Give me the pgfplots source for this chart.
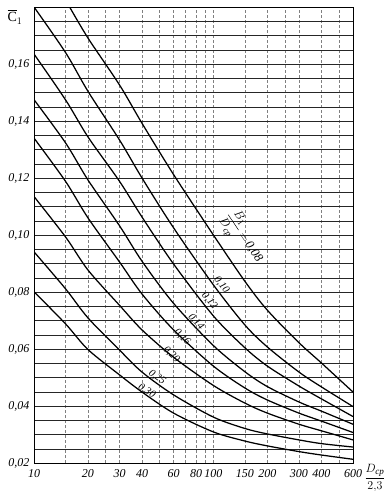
\documentclass[border=0pt]{standalone}
\usepackage{fontspec}
\setmainfont{Liberation Serif}
\usepackage{amsmath}
\usepackage{pgfplots}
\pgfplotsset{compat=1.18}
\begin{document}
\begin{tikzpicture}
\begin{axis}[
  at={(0pt,0pt)}, anchor=south west,
  scale only axis, width=319pt, height=456pt,
  xmode=log, log basis x=10,
  xmin=10, xmax=600, ymin=0.02, ymax=0.18,
  xtick={10,20,30,40,60,80,100,150,200,300,400,600},
  xticklabels={10,20,30,40,60,80,100,150,200,300,400,600},
  minor xtick={15,25,50,70,90,250,500},
  ytick={0.02,0.04,0.06,0.08,0.10,0.12,0.14,0.16},
  yticklabels={{0,02},{0,04},{0,06},{0,08},{0,10},{0,12},{0,14},{0,16}},
  minor ytick={0.025,0.03,0.035,0.045,0.05,0.055,0.065,0.07,0.075,0.085,0.09,0.095,0.105,0.11,0.115,0.125,0.13,0.135,0.145,0.15,0.155,0.165,0.17,0.175},
  grid=both,
  x grid style={densely dashed, black!50, line width=0.4pt},
  y grid style={black!85, line width=0.5pt},
  tick style={draw=none},
  axis line style={line width=0.8pt},
  tick label style={font=\itshape\fontsize{12}{12}\selectfont},
  xticklabel style={yshift=-3pt},
  yticklabel style={xshift=-1pt},
  curve/.style={black, solid, line width=1.25pt, smooth, mark=none},
]
% B1/Dcp = 0.30
\addplot[curve] coordinates {(10,0.0801) (15,0.0688) (20,0.0598) (30,0.0509) (40,0.0449) (60,0.0375) (100,0.0309) (150,0.0277) (200,0.0260) (300,0.0240) (400,0.0228) (600,0.0213)};
% 0.25
\addplot[curve] coordinates {(10,0.0941) (15,0.0811) (20,0.0709) (30,0.0596) (40,0.0519) (60,0.0439) (100,0.0361) (150,0.0321) (200,0.0302) (300,0.0281) (400,0.0268) (600,0.0256)};
% 0.20
\addplot[curve] coordinates {(10,0.1135) (15,0.0993) (20,0.0877) (30,0.0753) (40,0.0667) (60,0.0571) (100,0.0472) (150,0.0410) (200,0.0375) (300,0.0336) (400,0.0313) (600,0.0281)};
% 0.16
\addplot[curve] coordinates {(10,0.1340) (15,0.1188) (20,0.1060) (30,0.0905) (40,0.0793) (60,0.0667) (100,0.0540) (150,0.0463) (200,0.0421) (300,0.0375) (400,0.0347) (600,0.0307)};
% 0.14
\addplot[curve] coordinates {(10,0.1475) (15,0.1323) (20,0.1193) (30,0.1032) (40,0.0908) (60,0.0760) (100,0.0612) (150,0.0520) (200,0.0468) (300,0.0414) (400,0.0382) (600,0.0336)};
% 0.12
\addplot[curve] coordinates {(10,0.1635) (15,0.1474) (20,0.1344) (30,0.1188) (40,0.1063) (60,0.0898) (100,0.0716) (150,0.0604) (200,0.0540) (300,0.0470) (400,0.0425) (600,0.0363)};
% 0.10
\addplot[curve] coordinates {(10,0.1800) (15,0.1640) (20,0.1504) (30,0.1333) (40,0.1200) (60,0.1025) (100,0.0825) (150,0.0684) (200,0.0607) (300,0.0519) (400,0.0467) (600,0.0398)};
% 0.08
\addplot[curve] coordinates {(15.8,0.1800) (20,0.1691) (30,0.1526) (40,0.1392) (60,0.1212) (100,0.1000) (150,0.0837) (200,0.0736) (300,0.0622) (400,0.0551) (600,0.0449)};

\begin{scope}[every node/.style={font=\itshape\fontsize{10.5}{10.5}\selectfont, inner sep=0pt}]
\node[rotate=-56, font=\itshape\fontsize{12.5}{12.5}\selectfont] at (axis cs:146,0.0990) {$\dfrac{B_1}{D_{\text{ср}}}=\,$0,08};
\node[rotate=-52] at (axis cs:111,0.0826) {0,10};
\node[rotate=-50] at (axis cs:95,0.0768) {0,12};
\node[rotate=-47] at (axis cs:80,0.0695) {0,14};
\node[rotate=-45] at (axis cs:67,0.0642) {0,16};
\node[rotate=-43] at (axis cs:58.3,0.0580) {0,20};
\node[rotate=-36] at (axis cs:48.5,0.0500) {0,25};
\node[rotate=-33] at (axis cs:42.5,0.0452) {0,30};
\end{scope}
\end{axis}
\node[font=\fontsize{14}{14}\selectfont] at ([xshift=-19pt,yshift=-10pt]current axis.north west) {$\overline{\mathrm{C}}_1$};
\node[font=\itshape\fontsize{13}{13}\selectfont] at ([xshift=22pt,yshift=-15pt]current axis.south east) {$\dfrac{D_{\text{ср}}}{2{,}3}$};
\pgfresetboundingbox
\path[use as bounding box] (-34pt,-28pt) rectangle (356pt,463pt);
\end{tikzpicture}
\end{document}
